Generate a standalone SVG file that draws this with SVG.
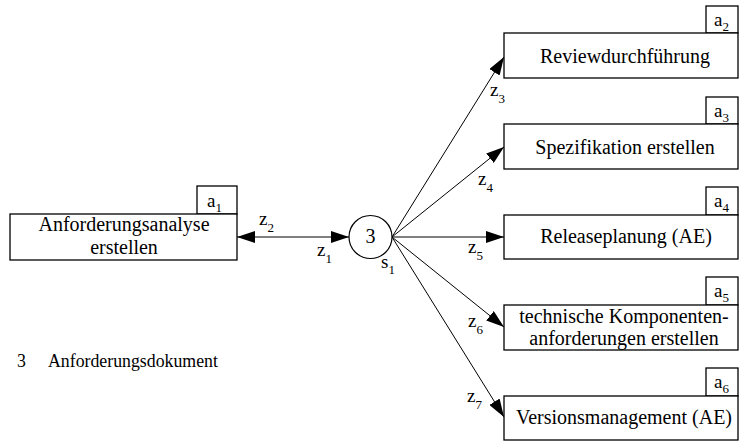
<svg xmlns="http://www.w3.org/2000/svg" width="739" height="441" viewBox="0 0 739 441" font-family="Liberation Serif, Times New Roman, serif">
  <style>
    .box { fill: #fff; stroke: #000; stroke-width: 1.3; }
    text { font-family: 'Liberation Serif', 'Times New Roman', serif; fill: #000; }
    .t { font-size: 20px; }
    .lbl { font-size: 19px; }
    .sub { font-size: 13px; }
    .leg { font-size: 17.8px; }
    .edge { stroke: #000; stroke-width: 1; fill: none; }
  </style>
  <defs>
    <marker id="arrow" markerUnits="userSpaceOnUse" markerWidth="18" markerHeight="12" refX="18" refY="6" orient="auto-start-reverse">
      <path d="M0,0 L18,6 L0,12 Z" fill="#000"/>
    </marker>
  </defs>
  <rect width="739" height="441" fill="#fff"/>

  <!-- connectors -->
  <g id="connectors">
    <line class="edge" x1="349" y1="237" x2="237" y2="237" marker-start="url(#arrow)" marker-end="url(#arrow)"/>
    <line class="edge" x1="392" y1="237" x2="504" y2="57" marker-end="url(#arrow)"/>
    <line class="edge" x1="392" y1="237" x2="504" y2="147" marker-end="url(#arrow)"/>
    <line class="edge" x1="392" y1="237" x2="504" y2="237" marker-end="url(#arrow)"/>
    <line class="edge" x1="392" y1="237" x2="504" y2="327" marker-end="url(#arrow)"/>
    <line class="edge" x1="392" y1="237" x2="504" y2="417" marker-end="url(#arrow)"/>
    <text class="lbl" x="259" y="225">z<tspan class="sub" dy="7">2</tspan></text>
    <text class="lbl" x="317" y="256">z<tspan class="sub" dy="7">1</tspan></text>
    <text class="lbl" x="490" y="96">z<tspan class="sub" dy="7">3</tspan></text>
    <text class="lbl" x="478" y="185">z<tspan class="sub" dy="7">4</tspan></text>
    <text class="lbl" x="468" y="253">z<tspan class="sub" dy="7">5</tspan></text>
    <text class="lbl" x="468" y="327">z<tspan class="sub" dy="7">6</tspan></text>
    <text class="lbl" x="467" y="402">z<tspan class="sub" dy="7">7</tspan></text>
  </g>

  <!-- source activity -->
  <g id="a1">
    <rect class="box" x="197" y="186" width="40" height="28"/>
    <text class="lbl" x="207" y="207">a<tspan class="sub" dy="5">1</tspan></text>
    <rect class="box" x="10" y="214" width="227" height="46"/>
    <text class="t" x="124" y="231" text-anchor="middle">Anforderungsanalyse</text>
    <text class="t" x="124" y="254" text-anchor="middle">erstellen</text>
  </g>

  <!-- document state -->
  <g id="s1">
    <circle cx="370.5" cy="237" r="21.5" fill="#fff" stroke="#000" stroke-width="1.2"/>
    <text class="t" x="370.5" y="243" text-anchor="middle">3</text>
    <text class="lbl" x="381" y="268">s<tspan class="sub" dy="6">1</tspan></text>
  </g>

  <g id="a2">
    <rect class="box" x="706" y="6" width="32" height="27"/>
    <text class="lbl" x="714" y="26">a<tspan class="sub" dy="5">2</tspan></text>
    <rect class="box" x="504" y="33" width="234" height="45"/>
    <text class="t" x="625" y="63" text-anchor="middle">Reviewdurchführung</text>
  </g>

  <g id="a3">
    <rect class="box" x="706" y="97" width="32" height="27"/>
    <text class="lbl" x="714" y="117">a<tspan class="sub" dy="5">3</tspan></text>
    <rect class="box" x="504" y="124" width="234" height="45"/>
    <text class="t" x="625" y="154" text-anchor="middle">Spezifikation erstellen</text>
  </g>

  <g id="a4">
    <rect class="box" x="706" y="187" width="32" height="28"/>
    <text class="lbl" x="714" y="207">a<tspan class="sub" dy="5">4</tspan></text>
    <rect class="box" x="504" y="215" width="234" height="44"/>
    <text class="t" x="626" y="243" text-anchor="middle">Releaseplanung (AE)</text>
  </g>

  <g id="a5">
    <rect class="box" x="706" y="277" width="32" height="28"/>
    <text class="lbl" x="714" y="297">a<tspan class="sub" dy="5">5</tspan></text>
    <rect class="box" x="504" y="305" width="234" height="45"/>
    <text class="t" x="624" y="323" text-anchor="middle">technische Komponenten-</text>
    <text class="t" x="624" y="345" text-anchor="middle">anforderungen erstellen</text>
  </g>

  <g id="a6">
    <rect class="box" x="706" y="368" width="32" height="28"/>
    <text class="lbl" x="714" y="388">a<tspan class="sub" dy="5">6</tspan></text>
    <rect class="box" x="504" y="396" width="234" height="44"/>
    <text class="t" x="624" y="424" text-anchor="middle">Versionsmanagement (AE)</text>
  </g>

  <!-- legend -->
  <g id="legend">
    <text class="leg" x="17" y="367">3</text>
    <text class="leg" x="48" y="367">Anforderungsdokument</text>
  </g>
</svg>
